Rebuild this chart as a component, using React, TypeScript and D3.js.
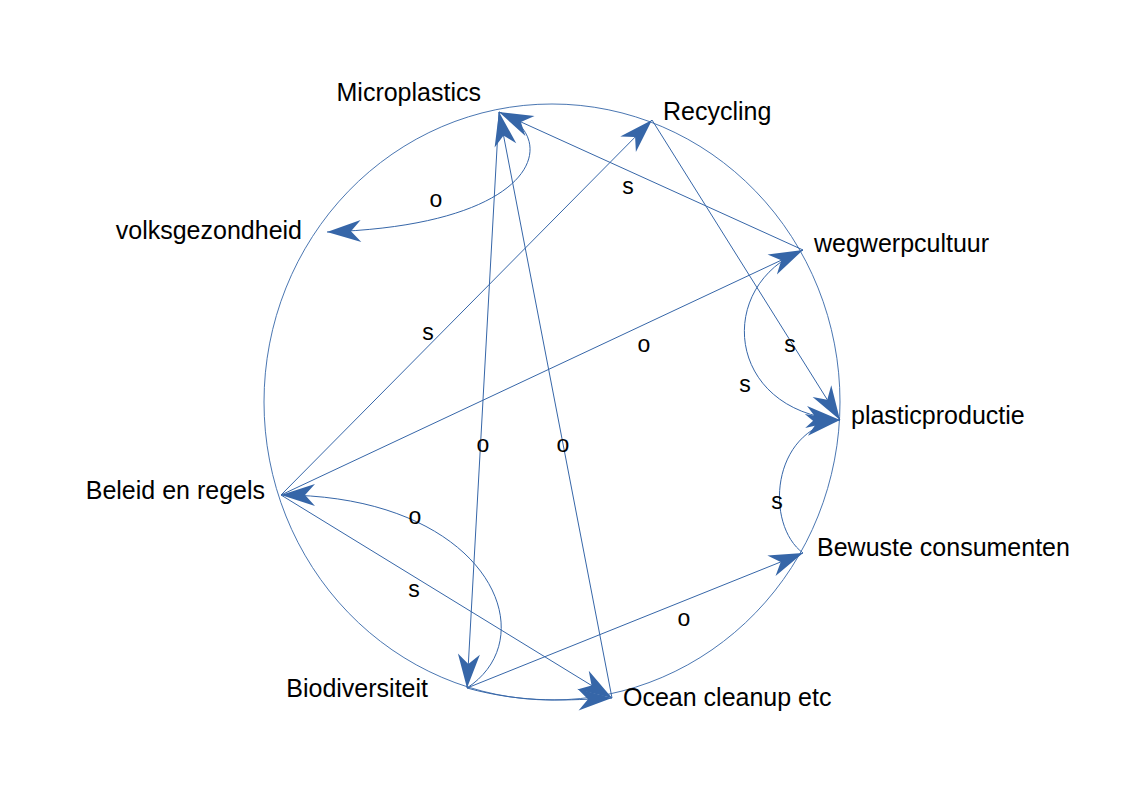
import React from "react";
import * as d3 from "d3";

const BLUE = "#3666a8";

// node label text, anchor point on the circle, label placement
const nodeNames = ["Microplastics", "Recycling", "wegwerpcultuur", "plasticproductie", "Bewuste consumenten", "Ocean cleanup etc", "Biodiversiteit", "Beleid en regels", "volksgezondheid"];
const nodePoints: [number, number][] = [[499, 112], [652, 120], [803, 250], [840, 420], [803, 553], [612, 698], [467, 688], [281, 495], [327, 232]];
const nodeLabelPos: [number, number, string][] = [[481, 101, "end"], [663, 120, "start"], [814, 252, "start"], [851, 424, "start"], [817, 556, "start"], [623, 706, "start"], [428, 697, "end"], [265, 499, "end"], [302, 239, "end"]];

// edges: from, to, polarity, label position, optional cubic controls
const edgeFrom = [0, 2, 7, 7, 1, 2, 4, 6, 6, 7, 0, 5, 6];
const edgeTo = [8, 0, 1, 2, 3, 3, 3, 4, 7, 5, 6, 0, 5];
const edgePolarity = ["o", "s", "s", "o", "s", "s", "s", "o", "o", "s", "o", "o", ""];
const edgeLabelPos: [number, number][] = [[436, 207], [628, 194], [428, 340], [644, 352], [790, 352], [745, 392], [777, 509], [684, 626], [415, 524], [414, 597], [483, 452], [563, 452], [0, 0]];
const edgeCurves: ([number, number, number, number] | null)[] = [
  [560, 135, 545, 225], null, null, null, null,
  [715, 285, 725, 410], [765, 525, 770, 430], null,
  [548, 635, 485, 495], null, null, null,
  [525, 704, 570, 700],
];

export default function App() {
  const width = 1123, height = 794;
  const cx = 552, cy = 402, rx = 288, ry = 298;
  const pathFor = (i: number) => {
    const p = d3.path();
    const a = nodePoints[edgeFrom[i]], b = nodePoints[edgeTo[i]];
    p.moveTo(a[0], a[1]);
    const c = edgeCurves[i];
    if (c) p.bezierCurveTo(c[0], c[1], c[2], c[3], b[0], b[1]);
    else p.lineTo(b[0], b[1]);
    return p.toString();
  };
  return (
    <svg width={width} height={height} style={{ position: "absolute", left: 0, top: 0 }} fontFamily="Liberation Sans, Arial, sans-serif">
      <defs>
        <marker id="arr" markerUnits="userSpaceOnUse" viewBox="-35 -12 37 24" refX={0} refY={0} markerWidth={37} markerHeight={24} orient="auto">
          <path d="M0,0 L-34,-11 L-24,0 L-34,11 Z" fill={BLUE} />
        </marker>
      </defs>
      <rect width={width} height={height} fill="#fff" />
      <ellipse cx={cx} cy={cy} rx={rx} ry={ry} fill="none" stroke={BLUE} strokeWidth={0.9} />
      {edgeFrom.map((_, i) => (
        <g key={i}>
          <path d={pathFor(i)} fill="none" stroke={BLUE} strokeWidth={1} markerEnd="url(#arr)" />
          {edgePolarity[i] && (
            <text x={edgeLabelPos[i][0]} y={edgeLabelPos[i][1]} fontSize={23} textAnchor="middle">{edgePolarity[i]}</text>
          )}
        </g>
      ))}
      {nodeNames.map((n, i) => (
        <text key={n} x={nodeLabelPos[i][0]} y={nodeLabelPos[i][1]} fontSize={25} textAnchor={nodeLabelPos[i][2]}>{n}</text>
      ))}
    </svg>
  );
}
